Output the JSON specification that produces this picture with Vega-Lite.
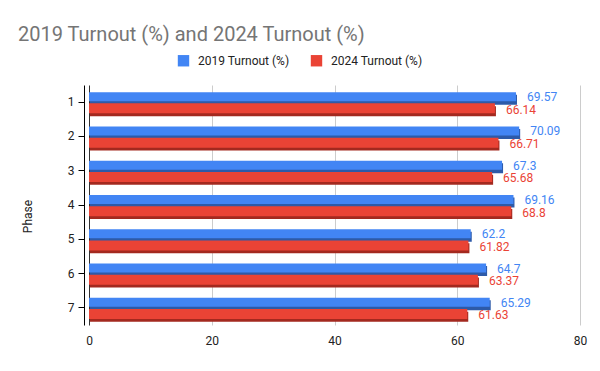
{
  "$schema": "https://vega.github.io/schema/vega-lite/v6.json",
  "width": 491,
  "height": 240,
  "autosize": "none",
  "padding": {"left": 89, "top": 85, "right": 20, "bottom": 46},
  "background": "white",
  "config": {"font": "Roboto", "view": {"stroke": null}},
  "title": {"text": "2019 Turnout (%) and 2024 Turnout (%)", "anchor": "start", "frame": "group", "dx": -71, "offset": 9, "fontSize": 20, "fontWeight": "normal", "color": "#757575", "font": "Roboto"},
  "data": {"values": [
    {"phase": "1", "series": "2019 Turnout (%)", "value": 69.57},
    {"phase": "1", "series": "2024 Turnout (%)", "value": 66.14},
    {"phase": "2", "series": "2019 Turnout (%)", "value": 70.09},
    {"phase": "2", "series": "2024 Turnout (%)", "value": 66.71},
    {"phase": "3", "series": "2019 Turnout (%)", "value": 67.3},
    {"phase": "3", "series": "2024 Turnout (%)", "value": 65.68},
    {"phase": "4", "series": "2019 Turnout (%)", "value": 69.16},
    {"phase": "4", "series": "2024 Turnout (%)", "value": 68.8},
    {"phase": "5", "series": "2019 Turnout (%)", "value": 62.2},
    {"phase": "5", "series": "2024 Turnout (%)", "value": 61.82},
    {"phase": "6", "series": "2019 Turnout (%)", "value": 64.7},
    {"phase": "6", "series": "2024 Turnout (%)", "value": 63.37},
    {"phase": "7", "series": "2019 Turnout (%)", "value": 65.29},
    {"phase": "7", "series": "2024 Turnout (%)", "value": 61.63}
  ]},
  "encoding": {
    "y": {"field": "phase", "type": "nominal", "scale": {"paddingInner": 0.3, "paddingOuter": 0.15},
      "axis": {"title": "Phase", "titleFontSize": 12, "titleFontWeight": "normal", "titleColor": "#222", "titlePadding": 33, "titleY": 131, "labelFontSize": 12, "labelColor": "#222", "labelPadding": 4, "domainColor": "#000", "tickColor": "#000", "tickSize": 6, "offset": 5, "labelAngle": 0}},
    "x": {"field": "value", "type": "quantitative", "scale": {"domain": [0, 80]},
      "axis": {"title": null, "values": [0, 20, 40, 60, 80], "labelFontSize": 12, "labelColor": "#222", "labelPadding": 10, "labelFlush": false, "ticks": false, "domain": false,
        "gridColor": {"condition": {"test": "datum.value === 0", "value": "#333"}, "value": "#cccccc"}}}
  },
  "layer": [
    {
      "transform": [{"filter": "datum.series === '2019 Turnout (%)'"}],
      "mark": {"type": "bar", "height": 10, "yOffset": -2.5, "xOffset": 1, "color": "#2d5aa8"}
    },
    {
      "transform": [{"filter": "datum.series === '2019 Turnout (%)'"}],
      "mark": {"type": "bar", "height": 9, "yOffset": -5.5},
      "encoding": {
        "color": {"field": "series", "type": "nominal", "scale": {"domain": ["2019 Turnout (%)", "2024 Turnout (%)"], "range": ["#4285F4", "#EA4335"]},
          "legend": {"title": null, "orient": "none", "direction": "horizontal", "legendX": 88, "legendY": -31, "symbolType": "square", "symbolSize": 130, "labelFontSize": 12, "labelColor": "#222", "columnPadding": 20, "labelOffset": 8}}
      }
    },
    {
      "transform": [{"filter": "datum.series === '2024 Turnout (%)'"}],
      "mark": {"type": "bar", "height": 10, "yOffset": 9, "xOffset": 1, "color": "#a3291f"}
    },
    {
      "transform": [{"filter": "datum.series === '2024 Turnout (%)'"}],
      "mark": {"type": "bar", "height": 10, "yOffset": 6.2},
      "encoding": {
        "color": {"field": "series", "type": "nominal", "scale": {"domain": ["2019 Turnout (%)", "2024 Turnout (%)"], "range": ["#4285F4", "#EA4335"]}}
      }
    },
    {
      "transform": [{"filter": "datum.series === '2019 Turnout (%)'"}],
      "mark": {"type": "text", "align": "left", "baseline": "middle", "dx": 11, "yOffset": -5, "fontSize": 12, "color": "#4285F4"},
      "encoding": {"text": {"field": "value", "type": "quantitative"}}
    },
    {
      "transform": [{"filter": "datum.series === '2024 Turnout (%)'"}],
      "mark": {"type": "text", "align": "left", "baseline": "middle", "dx": 11, "yOffset": 7.5, "fontSize": 12, "color": "#EA4335"},
      "encoding": {"text": {"field": "value", "type": "quantitative"}}
    }
  ]
}
